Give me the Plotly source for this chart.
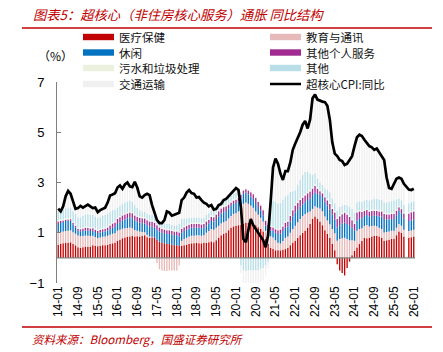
import plotly.graph_objects as go

# ---------------- data ----------------
months = [f"{y % 100:02d}-{m:02d}" for y in range(2014, 2027) for m in range(1, 13)][:145]

medical = [
    0.52, 0.55, 0.58, 0.60, 0.60, 0.62, 0.55, 0.50, 0.42, 0.40, 0.42, 0.45,
    0.44, 0.45, 0.50, 0.48, 0.46, 0.48, 0.50, 0.50, 0.52, 0.55, 0.58, 0.60,
    0.68, 0.72, 0.78, 0.81, 0.83, 0.85, 0.88, 0.85, 0.86, 0.85, 0.88, 0.90,
    0.82, 0.80, 0.82, 0.80, 0.72, 0.65, 0.60, 0.58, 0.55, 0.55, 0.52, 0.50,
    0.50, 0.48, 0.48, 0.50, 0.52, 0.55, 0.58, 0.58, 0.60, 0.58, 0.58, 0.60,
    0.60, 0.62, 0.65, 0.62, 0.70, 0.80, 0.90, 0.95, 1.00, 1.10, 1.20, 1.25,
    1.28, 1.30, 1.32, 1.35, 1.40, 1.40, 1.38, 1.35, 1.30, 1.22, 1.15, 1.05,
    0.75, 0.55, 0.40, 0.35, 0.30, 0.30, 0.30, 0.32, 0.35, 0.40, 0.50, 0.60,
    0.68, 0.80, 0.90, 1.00, 1.08, 1.20, 1.35, 1.55, 1.65, 1.55, 1.45, 1.30,
    1.10, 0.95, 0.80, 0.55, 0.30, -0.25, -0.50, -0.60, -0.70, -0.40, -0.15, 0.10,
    0.28, 0.41, 0.55, 0.68, 0.80, 0.78, 0.80, 0.85, 0.88, 0.88, 0.85, 0.80,
    0.68, 0.70, 0.72, 0.75, 0.75, 0.90, 1.05, 1.00, 0.85, None, 0.80, 0.82,
    0.85,
]

edu_comm = [
    0.49, 0.48, 0.47, 0.47, 0.48, 0.48, 0.47, 0.46, 0.47, 0.46, 0.45, 0.44,
    0.44, 0.42, 0.38, 0.35, 0.33, 0.33, 0.34, 0.35, 0.36, 0.37, 0.38, 0.38,
    0.40, 0.40, 0.38, 0.37, 0.36, 0.36, 0.30, 0.26, 0.22, 0.20, 0.15, 0.12,
    0.10, 0.05, 0.02, 0.00, -0.20, -0.45, -0.50, -0.52, -0.52, -0.50, -0.50, -0.50,
    -0.50, -0.30, 0.20, 0.25, 0.28, 0.30, 0.30, 0.30, 0.30, 0.32, 0.30, 0.30,
    0.40, 0.45, 0.50, 0.50, 0.50, 0.48, 0.47, 0.47, 0.47, 0.47, 0.47, 0.50,
    0.50, 0.55, 0.65, 0.80, 0.80, 0.75, 0.70, 0.65, 0.55, 0.50, 0.45, 0.40,
    0.33, 0.40, 0.46, 0.46, 0.40, 0.30, 0.27, 0.35, 0.45, 0.45, 0.50, 0.55,
    0.60, 0.62, 0.65, 0.67, 0.67, 0.60, 0.50, 0.40, 0.40, 0.45, 0.52, 0.55,
    0.55, 0.54, 0.54, 0.60, 0.68, 0.68, 0.75, 0.78, 0.80, 0.75, 0.70, 0.60,
    0.40, 0.67, 0.60, 0.50, 0.47, 0.53, 0.45, 0.42, 0.40, 0.38, 0.35, 0.35,
    0.33, 0.33, 0.33, 0.33, 0.33, 0.30, 0.30, 0.28, 0.27, None, 0.27, 0.27,
    0.27,
]

leisure = [
    0.34, 0.36, 0.38, 0.40, 0.40, 0.38, 0.30, 0.25, 0.20, 0.20, 0.20, 0.20,
    0.20, 0.20, 0.20, 0.20, 0.20, 0.20, 0.20, 0.20, 0.20, 0.22, 0.24, 0.25,
    0.27, 0.30, 0.33, 0.35, 0.38, 0.40, 0.40, 0.38, 0.36, 0.35, 0.35, 0.35,
    0.38, 0.40, 0.40, 0.40, 0.40, 0.40, 0.40, 0.40, 0.40, 0.40, 0.40, 0.40,
    0.40, 0.38, 0.32, 0.32, 0.32, 0.32, 0.32, 0.32, 0.30, 0.30, 0.30, 0.30,
    0.30, 0.30, 0.32, 0.33, 0.35, 0.38, 0.40, 0.40, 0.40, 0.40, 0.40, 0.40,
    0.40, 0.40, 0.40, 0.40, 0.40, 0.38, 0.36, 0.35, 0.33, 0.30, 0.28, 0.25,
    0.20, 0.20, 0.22, 0.27, 0.30, 0.35, 0.40, 0.40, 0.40, 0.40, 0.45, 0.50,
    0.53, 0.50, 0.48, 0.46, 0.46, 0.50, 0.52, 0.55, 0.55, 0.55, 0.55, 0.57,
    0.58, 0.60, 0.60, 0.58, 0.55, 0.53, 0.55, 0.58, 0.60, 0.60, 0.60, 0.50,
    0.40, 0.40, 0.40, 0.40, 0.40, 0.40, 0.40, 0.40, 0.40, 0.42, 0.45, 0.50,
    0.54, 0.50, 0.48, 0.47, 0.47, 0.50, 0.53, 0.50, 0.45, None, 0.40, 0.40,
    0.40,
]

personal = [
    0.10, 0.08, 0.06, 0.05, 0.05, 0.06, 0.07, 0.07, 0.07, 0.08, 0.10, 0.11,
    0.11, 0.10, 0.10, 0.09, 0.09, 0.10, 0.10, 0.11, 0.13, 0.15, 0.17, 0.18,
    0.20, 0.20, 0.20, 0.20, 0.20, 0.20, 0.20, 0.20, 0.20, 0.20, 0.20, 0.20,
    0.20, 0.20, 0.20, 0.20, 0.18, 0.16, 0.15, 0.15, 0.15, 0.15, 0.15, 0.15,
    0.15, 0.15, 0.15, 0.15, 0.15, 0.15, 0.15, 0.15, 0.15, 0.15, 0.15, 0.15,
    0.15, 0.15, 0.16, 0.17, 0.18, 0.20, 0.20, 0.20, 0.18, 0.15, 0.13, 0.13,
    0.13, 0.13, 0.13, 0.13, 0.13, 0.15, 0.17, 0.18, 0.20, 0.20, 0.20, 0.20,
    0.20, 0.17, 0.15, 0.13, 0.14, 0.15, 0.16, 0.18, 0.20, 0.20, 0.22, 0.25,
    0.27, 0.27, 0.27, 0.27, 0.27, 0.27, 0.27, 0.26, 0.26, 0.20, 0.13, 0.15,
    0.18, 0.20, 0.20, 0.22, 0.28, 0.34, 0.36, 0.38, 0.40, 0.38, 0.33, 0.30,
    0.27, 0.33, 0.30, 0.25, 0.20, 0.20, 0.20, 0.20, 0.20, 0.20, 0.20, 0.20,
    0.20, 0.20, 0.20, 0.20, 0.20, 0.18, 0.13, 0.16, 0.20, None, 0.30, 0.33,
    0.33,
]

sewage = [
    0.05, 0.05, 0.05, 0.05, 0.05, 0.05, 0.05, 0.05, 0.05, 0.05, 0.05, 0.05,
    0.05, 0.05, 0.05, 0.05, 0.05, 0.05, 0.05, 0.05, 0.05, 0.05, 0.05, 0.05,
    0.05, 0.05, 0.05, 0.05, 0.05, 0.05, 0.05, 0.05, 0.05, 0.05, 0.05, 0.05,
    0.05, 0.05, 0.05, 0.05, 0.05, 0.05, 0.05, 0.05, 0.05, 0.05, 0.05, 0.05,
    0.05, 0.05, 0.05, 0.05, 0.05, 0.05, 0.05, 0.05, 0.05, 0.05, 0.05, 0.05,
    0.06, 0.06, 0.06, 0.06, 0.06, 0.06, 0.06, 0.06, 0.06, 0.06, 0.06, 0.06,
    0.06, 0.06, 0.06, 0.06, 0.06, 0.06, 0.06, 0.06, 0.06, 0.06, 0.06, 0.06,
    0.05, 0.05, 0.05, 0.05, 0.05, 0.05, 0.05, 0.05, 0.05, 0.05, 0.05, 0.05,
    0.06, 0.06, 0.06, 0.06, 0.06, 0.06, 0.06, 0.06, 0.06, 0.06, 0.06, 0.06,
    0.06, 0.06, 0.06, 0.06, 0.06, 0.06, 0.06, 0.06, 0.06, 0.06, 0.06, 0.06,
    0.05, 0.05, 0.05, 0.05, 0.05, 0.05, 0.05, 0.05, 0.05, 0.05, 0.05, 0.05,
    0.05, 0.05, 0.05, 0.05, 0.05, 0.05, 0.05, 0.05, 0.05, None, 0.05, 0.05,
    0.05,
]

other = [
    0.38, 0.40, 0.40, 0.40, 0.40, 0.40, 0.42, 0.42, 0.41, 0.42, 0.45, 0.48,
    0.50, 0.50, 0.50, 0.48, 0.46, 0.46, 0.48, 0.50, 0.50, 0.50, 0.48, 0.45,
    0.40, 0.40, 0.40, 0.42, 0.42, 0.42, 0.40, 0.35, 0.30, 0.25, 0.22, 0.21,
    0.22, 0.22, 0.22, 0.22, 0.20, 0.20, 0.20, 0.20, 0.20, 0.20, 0.20, 0.20,
    0.20, 0.30, 0.35, 0.30, 0.25, 0.22, 0.20, 0.20, 0.20, 0.20, 0.20, 0.20,
    0.20, 0.20, 0.20, 0.20, 0.20, 0.20, 0.20, 0.22, 0.22, 0.22, 0.22, 0.22,
    0.22, 0.20, -0.30, -0.50, -0.52, -0.50, -0.50, -0.50, -0.50, -0.50, -0.45, -0.40,
    -0.30, -0.15, 0.60, 1.00, 1.05, 1.00, 1.00, 1.00, 1.00, 1.00, 0.90, 0.70,
    0.55, 0.65, 0.75, 0.85, 0.88, 0.80, 0.65, 0.50, 0.45, 0.35, 0.30, 0.27,
    0.30, 0.35, 0.41, 0.35, 0.30, 0.28, 0.30, 0.28, 0.25, 0.30, 0.35, 0.40,
    0.40, 0.35, 0.35, 0.35, 0.35, 0.35, 0.38, 0.40, 0.42, 0.42, 0.42, 0.41,
    0.41, 0.42, 0.44, 0.46, 0.48, 0.40, 0.30, 0.30, 0.30, None, 0.35, 0.35,
    0.35,
]

transport = [
    0.08, 0.03, 0.11, 0.48, 0.68, 0.56, 0.39, 0.20, 0.36, 0.46, 0.33, 0.32,
    0.38, 0.33, 0.25, 0.35, 0.23, 0.28, 0.29, 0.29, 0.44, 0.64, 0.62, 0.66,
    0.80, 0.81, 0.61, 0.72, 0.76, 0.57, 0.59, 0.94, 0.81, 0.55, 0.55, 0.67,
    0.78, 0.78, 0.39, 0.08, 0.02, 0.02, 0.02, 0.12, 0.50, 0.45, 0.36, 0.42,
    0.45, 0.44, 0.75, 0.83, 1.03, 1.11, 0.98, 0.95, 0.80, 0.82, 0.72, 0.60,
    0.45, 0.28, 0.22, 0.05, 0.02, 0.02, 0.02, 0.03, 0.05, 0.06, 0.08, 0.10,
    0.20, 0.07, -0.30, -0.60, -0.65, -0.60, -0.55, -0.55, -0.55, -0.55, -0.50, -0.50,
    -0.40, -0.25, 0.32, 1.34, 1.71, 1.60, 1.17, 0.80, 1.00, 0.95, 1.18, 1.65,
    1.87, 1.86, 1.90, 2.00, 2.04, 1.73, 2.16, 3.04, 3.14, 3.15, 3.25, 3.33,
    3.44, 3.36, 2.90, 2.25, 1.99, 2.17, 1.89, 1.78, 1.60, 1.67, 1.87, 2.10,
    2.65, 2.59, 2.65, 2.62, 2.43, 2.24, 2.17, 2.08, 1.95, 2.00, 1.88, 1.69,
    1.69, 1.00, 0.56, 0.49, 0.67, 0.82, 0.84, 0.86, 0.83, None, 0.55, 0.48,
    0.50,
]

supercore = [
    1.96, 1.85, 2.05, 2.45, 2.66, 2.55, 2.25, 1.95, 1.98, 2.07, 2.00, 2.05,
    2.12, 2.05, 1.98, 2.00, 1.82, 1.90, 1.96, 2.00, 2.20, 2.48, 2.52, 2.57,
    2.80, 2.88, 2.75, 2.92, 3.00, 2.85, 2.82, 3.03, 2.80, 2.45, 2.40, 2.50,
    2.55, 2.50, 2.10, 1.75, 1.50, 1.38, 1.38, 1.50, 1.85, 1.80, 1.68, 1.72,
    1.75, 1.80, 2.30, 2.40, 2.60, 2.70, 2.58, 2.55, 2.40, 2.42, 2.30, 2.20,
    2.15, 2.05, 2.10, 1.92, 1.95, 2.10, 2.15, 2.30, 2.35, 2.45, 2.55, 2.65,
    2.78, 2.70, 2.00, 0.75, 0.62, 1.10, 1.55, 1.30, 1.15, 1.05, 0.90, 0.70,
    0.42, 0.90, 2.20, 3.60, 3.95, 3.75, 3.35, 3.10, 3.45, 3.45, 3.80, 4.30,
    4.55, 4.75, 5.00, 5.30, 5.45, 5.15, 5.50, 6.35, 6.50, 6.30, 6.25, 6.22,
    6.20, 6.05, 5.50, 4.60, 4.15, 4.05, 3.90, 3.85, 3.70, 3.75, 3.90, 4.05,
    4.45, 4.80, 4.90, 4.85, 4.70, 4.55, 4.45, 4.40, 4.30, 4.35, 4.20, 4.00,
    3.90, 3.20, 2.78, 2.75, 2.95, 3.15, 3.20, 3.15, 2.95, None, 2.72, 2.70,
    2.75,
]

y_ticks = [-1, 1, 3, 5, 7]
x_tick_labels = months[::8]

# near-opaque rgba colours make plotly snap bar edges to whole pixels (thin bars, white gaps)
bar_series = [
    ("医疗保健", medical, "rgba(192,0,0,0.99)"),
    ("教育与通讯", edu_comm, "rgba(230,185,184,0.99)"),
    ("休闲", leisure, "rgba(0,112,192,0.99)"),
    ("其他个人服务", personal, "rgba(160,40,143,0.99)"),
    ("污水和垃圾处理", sewage, "rgba(235,241,222,0.99)"),
    ("其他", other, "rgba(183,222,232,0.99)"),
    ("交通运输", transport, "rgba(240,240,240,0.99)"),
]
line_name = "超核心CPI:同比"

title_text = "图表5：超核心（非住房核心服务）通胀 同比结构"
source_text = "资料来源：Bloomberg，国盛证券研究所"
unit_text = "（%）"

# ---------------- figure ----------------
W, H = 443, 352
ML, MR, MT, MB = 57, 28, 82, 69
PW, PH = W - ML - MR, H - MT - MB


def px(x):
    return (x - ML) / PW


def py(y):
    return (H - MB - y) / PH


fig = go.Figure()
for name, vals, col in bar_series:
    fig.add_trace(go.Bar(x=months, y=vals, name=name, marker_color=col,
                         marker_line_width=0, showlegend=False))
fig.add_trace(go.Scatter(x=months, y=supercore, name=line_name, mode="lines",
                         line=dict(color="black", width=2.7), connectgaps=True,
                         showlegend=False))

RED = "#C00000"
CJK = "Noto Sans CJK SC"
LAT = "Liberation Sans, Arial"

shapes = [
    dict(type="line", xref="paper", yref="paper", x0=px(22), x1=px(432), y0=py(28), y1=py(28),
         line=dict(color=RED, width=1.3)),
    dict(type="line", xref="paper", yref="paper", x0=px(22), x1=px(432), y0=py(327), y1=py(327),
         line=dict(color=RED, width=1.3)),
    dict(type="line", xref="paper", yref="y", x0=0, x1=1, y0=0, y1=0, layer="above",
         line=dict(color="#808080", width=1.2)),
]
annotations = [
    dict(text=title_text, xref="paper", yref="paper", x=px(32), y=py(14), xanchor="left",
         yanchor="middle", showarrow=False, borderpad=0,
         font=dict(family=CJK, size=13.3, color=RED, style="italic")),
    dict(text=source_text, xref="paper", yref="paper", x=px(31), y=py(339), xanchor="left",
         yanchor="middle", showarrow=False, borderpad=0,
         font=dict(family=CJK, size=11.5, color=RED, style="italic")),
    dict(text=unit_text, xref="paper", yref="paper", x=px(55), y=py(55), xanchor="center",
         yanchor="middle", showarrow=False, borderpad=0,
         font=dict(family=CJK, size=12, color="#000")),
]

# manual legend (2 columns)
legend_items = [(n, c, "bar") for n, _, c in bar_series] + [(line_name, "black", "line")]
col_sw = [83, 270]
rows_y = [37, 52.5, 68, 84]
for k, (name, col, kind) in enumerate(legend_items):
    r, c = k // 2, k % 2
    yy = rows_y[r]
    x0 = col_sw[c]
    if kind == "bar":
        shapes.append(dict(type="rect", xref="paper", yref="paper", x0=px(x0), x1=px(x0 + 31),
                           y0=py(yy + 3.2), y1=py(yy - 3.2), line=dict(width=0), fillcolor=col))
    else:
        shapes.append(dict(type="line", xref="paper", yref="paper", x0=px(x0), x1=px(x0 + 31),
                           y0=py(yy), y1=py(yy), line=dict(color=col, width=2.5)))
    annotations.append(dict(text=name, xref="paper", yref="paper", x=px(x0 + 35), y=py(yy),
                            xanchor="left", yanchor="middle", showarrow=False, borderpad=0,
                            font=dict(family=CJK, size=11.5, color="#111")))

fig.update_layout(
    width=W, height=H, margin=dict(l=ML, r=MR, t=MT, b=MB),
    barmode="relative", bargap=0.45,
    plot_bgcolor="white", paper_bgcolor="white", showlegend=False,
    shapes=shapes, annotations=annotations,
)
fig.update_xaxes(type="category", range=[-0.5, 144.5], tickmode="array",
                 tickvals=x_tick_labels, ticktext=x_tick_labels, tickangle=-90,
                 showline=False, showgrid=False, zeroline=False, ticks="",
                 tickfont=dict(family=LAT, size=12, color="#000"))
fig.update_yaxes(range=[-1, 7], tickmode="array", tickvals=y_ticks, showgrid=False,
                 zeroline=False, showline=True, linecolor="#808080", linewidth=1,
                 ticks="inside", ticklen=4, tickcolor="#808080",
                 tickfont=dict(family=LAT, size=13, color="#000"), ticklabelstandoff=9)

fig.write_html("out.html")
